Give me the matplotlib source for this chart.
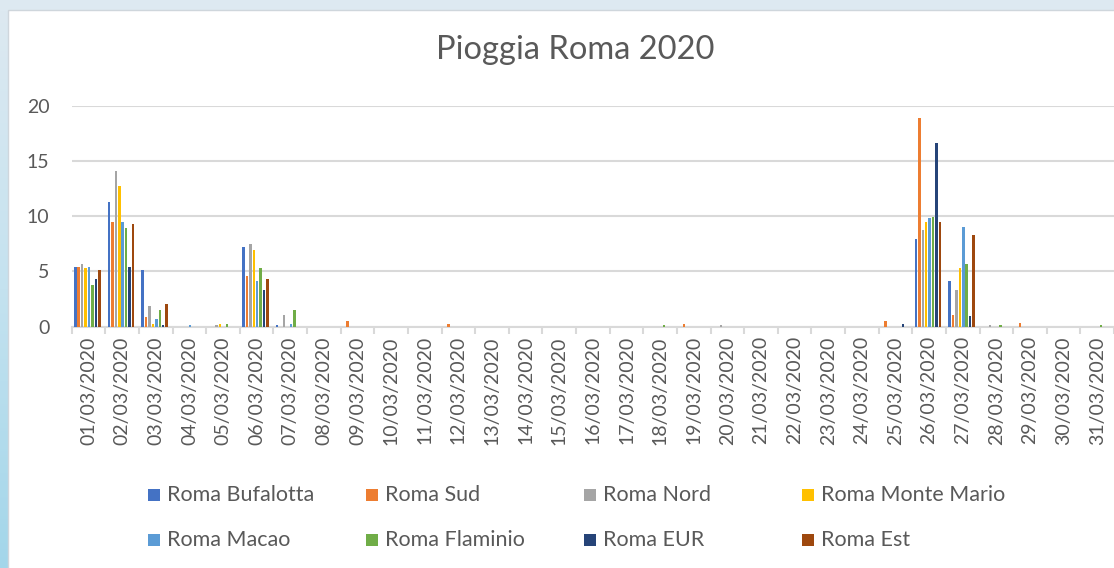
import numpy as np
import matplotlib
matplotlib.use('Agg')
import matplotlib.pyplot as plt
from matplotlib.patches import Rectangle
from matplotlib.colors import LinearSegmentedColormap

plt.rcParams['font.family'] = ['Lato', 'DejaVu Sans']

# days of March 2020
dates = ['%02d/03/2020' % d for d in range(1, 32)]

stations = ['Roma Bufalotta', 'Roma Sud', 'Roma Nord', 'Roma Monte Mario',
            'Roma Macao', 'Roma Flaminio', 'Roma EUR', 'Roma Est']

# daily rain (mm), one list per station, 31 days
bufalotta = [5.4, 11.3, 5.1, 0, 0, 7.2, 0.1, 0, 0, 0, 0, 0, 0, 0, 0, 0,
             0, 0, 0, 0, 0, 0, 0, 0, 0, 7.9, 4.1, 0, 0, 0, 0]
sud = [5.4, 9.5, 0.9, 0, 0, 4.6, 0, 0, 0.5, 0, 0, 0.2, 0, 0, 0, 0,
       0, 0, 0.2, 0, 0, 0, 0, 0, 0.5, 18.9, 1.0, 0, 0.3, 0, 0]
nord = [5.7, 14.1, 1.9, 0, 0.1, 7.5, 1.0, 0, 0, 0, 0, 0, 0, 0, 0, 0,
        0, 0, 0, 0.1, 0, 0, 0, 0, 0, 8.7, 3.3, 0.1, 0, 0, 0]
monte_mario = [5.3, 12.7, 0.25, 0, 0.2, 6.9, 0, 0, 0, 0, 0, 0, 0, 0, 0, 0,
               0, 0, 0, 0, 0, 0, 0, 0, 0, 9.5, 5.3, 0, 0, 0, 0]
macao = [5.4, 9.5, 0.7, 0.1, 0, 4.1, 0.25, 0, 0, 0, 0, 0, 0, 0, 0, 0,
         0, 0, 0, 0, 0, 0, 0, 0, 0, 9.8, 9.0, 0, 0, 0, 0]
flaminio = [3.8, 8.9, 1.45, 0, 0.2, 5.3, 1.45, 0, 0, 0, 0, 0, 0, 0, 0, 0,
            0, 0.1, 0, 0, 0, 0, 0, 0, 0, 9.9, 5.7, 0.15, 0, 0, 0.1]
eur = [4.3, 5.4, 0.15, 0, 0, 3.3, 0, 0, 0, 0, 0, 0, 0, 0, 0, 0,
       0, 0, 0, 0, 0, 0, 0, 0, 0.25, 16.6, 0.95, 0, 0, 0, 0]
est = [5.1, 9.3, 2.05, 0, 0, 4.3, 0, 0, 0, 0, 0, 0, 0, 0, 0, 0,
       0, 0, 0, 0, 0, 0, 0, 0, 0, 9.5, 8.3, 0, 0, 0, 0]

series = [bufalotta, sud, nord, monte_mario, macao, flaminio, eur, est]
colors = ['#4472C4', '#ED7D31', '#A5A5A5', '#FFC000',
          '#5B9BD5', '#70AD47', '#264478', '#9E480E']

W, H = 1114, 568
fig = plt.figure(figsize=(W / 100, H / 100), dpi=100)
fig.patch.set_facecolor('white')

# light blue frame on top / left of the chart area
bg = fig.add_axes([0, 0, 1, 1], zorder=-5)
bg.set_xlim(0, W)
bg.set_ylim(H, 0)
bg.axis('off')
bg.add_patch(Rectangle((0, 0), W, 10, color='#dde9f1', lw=0))
grad = LinearSegmentedColormap.from_list('edge', ['#dde9f1', '#c4e2ef', '#a3d6ea'])
bg.imshow(np.linspace(0, 1, 200).reshape(-1, 1), cmap=grad, aspect='auto',
          extent=[0, 8, H, 10])
bg.add_patch(Rectangle((8, 10), W, H, fill=False, ec='#cfd6dc', lw=1))
bg.set_xlim(0, W)
bg.set_ylim(H, 0)

ax = fig.add_axes([71.7 / W, 1 - 326.5 / H, 1 - 71.7 / W, (326.5 - 105.5) / H])

n = len(series)
step = 0.1025
bar_w = 0.075
x = np.arange(len(dates))
for k in range(n):
    ax.bar(x - 0.5 + 0.07 + k * step, series[k], bar_w, align='edge',
           color=colors[k], lw=0, zorder=3, label=stations[k])

ax.set_xlim(-0.5, len(dates) - 0.5)
ax.set_ylim(0, 20)
ax.set_yticks([0, 5, 10, 15, 20])
ax.yaxis.grid(True, color='#d9d9d9', lw=1.5, zorder=0)
ax.tick_params(axis='y', length=0, pad=16, labelsize=14, labelcolor='#595959')

ax.set_xticks(x)
ax.set_xticklabels(dates, rotation=90, fontsize=14, color='#595959')
ax.set_xticks(np.arange(len(dates) + 1) - 0.5, minor=True)
ax.tick_params(axis='x', which='major', length=0, pad=7)
ax.tick_params(axis='x', which='minor', length=5, width=1.5, color='#d9d9d9')

for s in ['top', 'right', 'left']:
    ax.spines[s].set_visible(False)
ax.spines['bottom'].set_color('#d9d9d9')
ax.spines['bottom'].set_linewidth(1.5)
ax.patch.set_alpha(0)

fig.text(575 / W, 1 - 50 / H, 'Pioggia Roma 2020', ha='center', va='center',
         fontsize=23.5, color='#595959')

# legend laid out on a fixed grid, 4 columns x 2 rows
for k in range(n):
    col = k % 4
    row = k // 4
    px = 148 + col * 218
    py = 495 + row * 45
    bg.add_patch(Rectangle((px, py - 6), 12, 12, color=colors[k], lw=0))
    bg.text(px + 19, py, stations[k], ha='left', va='center',
            fontsize=15.5, color='#595959')

fig.savefig('out.png', dpi=100)
